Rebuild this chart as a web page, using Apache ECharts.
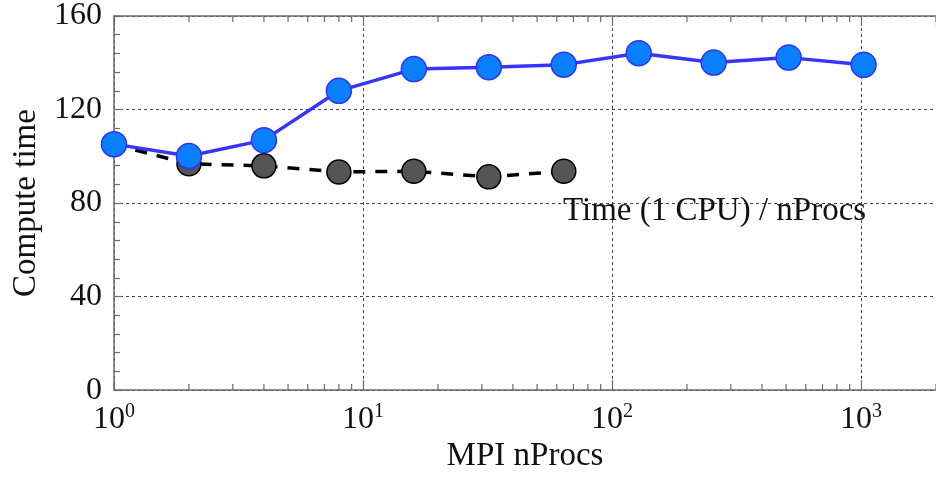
<!DOCTYPE html>
<html>
<head>
<meta charset="utf-8">
<script src="https://cdn.jsdelivr.net/npm/echarts@6/dist/echarts.min.js"></script>
<style>html,body{margin:0;padding:0;background:#fff;}#c{width:936px;height:478px;}</style>
</head>
<body>
<div id="c"></div>
<script>
const procs = [1, 2, 4, 8, 16, 32, 64, 128, 256, 512, 1024];
const computeTime = [105.2, 100.1, 106.9, 128.0, 137.3, 138.1, 139.2, 144.1, 140.1, 142.2, 139.1];
const procsIdeal = [1, 2, 4, 8, 16, 32, 64];
const idealTime = [105.0, 96.8, 95.9, 93.3, 93.6, 91.2, 93.6];
const yTicks = [0, 40, 80, 120, 160];
const xMajorTicks = [1, 10, 100, 1000];
const xMinorTicks = [2,3,4,5,6,7,8,9,20,30,40,50,60,70,80,90,200,300,400,500,600,700,800,900,2000];
const annotation = 'Time (1 CPU) / nProcs';

const FONT = 'Liberation Serif';
const axisColor = '#6a6a6a';
const chart = echarts.init(document.getElementById('c'));

const option = {
  animation: false,
  grid: { left: 114, top: 16, right: -12, bottom: 81, containLabel: false },
  xAxis: [{
    type: 'log', logBase: 10, min: 1, max: 2000,
    name: 'MPI nProcs', nameLocation: 'middle', nameGap: 47,
    nameTextStyle: { fontFamily: FONT, fontSize: 33, color: '#111' },
    axisLine: { show: true, onZero: false, lineStyle: { color: axisColor, width: 1.5 } },
    axisTick: { show: true, inside: true, length: 10, lineStyle: { color: axisColor, width: 1.2 } },
    minorTick: { show: false },
    axisLabel: {
      showMaxLabel: false, margin: 12, color: '#111',
      formatter: function (v) {
        const e = Math.round(Math.log10(v));
        return '{b|10}{e|' + e + '}';
      },
      rich: {
        b: { fontFamily: FONT, fontSize: 32, color: '#111' },
        e: { fontFamily: FONT, fontSize: 20, color: '#111', padding: [0, 0, 14, 0] }
      }
    },
    splitLine: { show: true, lineStyle: { color: '#444', width: 1, type: [3, 3] } }
  }, {
    type: 'log', logBase: 10, min: 1, max: 2000, position: 'top',
    axisLine: { show: true, onZero: false, lineStyle: { color: axisColor, width: 1.5 } },
    axisTick: { show: true, inside: true, length: 10, lineStyle: { color: axisColor, width: 1.2 } },
    axisLabel: { show: false },
    splitLine: { show: false }
  }],
  yAxis: {
    type: 'value', min: 0, max: 160, interval: 40,
    name: 'Compute time', nameLocation: 'middle', nameGap: 71,
    nameTextStyle: { fontFamily: FONT, fontSize: 33, color: '#111' },
    axisLine: { show: true, lineStyle: { color: axisColor, width: 1.5 } },
    axisTick: { show: true, inside: true, length: 8, lineStyle: { color: axisColor, width: 1.2 } },
    minorTick: { show: true, splitNumber: 5, length: 6, lineStyle: { color: axisColor, width: 1.2 } },
    axisLabel: {
      margin: 12, fontFamily: FONT, fontSize: 32, color: '#111',
      formatter: function (v) { return yTicks.indexOf(v) >= 0 ? String(v) : ''; }
    },
    splitLine: { show: true, lineStyle: { color: '#444', width: 1, type: [3, 3] } }
  },
  graphic: [{
    type: 'text', left: 563, top: 195, z: 100,
    style: { text: annotation, fontFamily: FONT, fontSize: 33, fill: '#111' }
  }],
  series: [{
    type: 'custom', silent: true, z: 1,
    data: xMinorTicks.map(v => [v]),
    renderItem: function (params, api) {
      const v = api.value(0);
      const b = api.coord([v, 0]);
      const t = api.coord([v, 160]);
      const ls = { stroke: axisColor, lineWidth: 1.2 };
      return { type: 'group', children: [
        { type: 'line', shape: { x1: b[0], y1: b[1], x2: b[0], y2: b[1] - 6 }, style: ls },
        { type: 'line', shape: { x1: t[0], y1: t[1], x2: t[0], y2: t[1] + 6 }, style: ls }
      ] };
    }
  }, {
    name: 'ideal', type: 'line', z: 2,
    data: procsIdeal.map((p, i) => [p, idealTime[i]]),
    symbol: 'circle', symbolSize: 24,
    lineStyle: { color: '#000', width: 3.5, type: [12, 10] },
    itemStyle: { color: '#555', borderColor: '#000', borderWidth: 1.5 }
  }, {
    name: 'measured', type: 'line', z: 3,
    data: procs.map((p, i) => [p, computeTime[i]]),
    symbol: 'circle', symbolSize: 25,
    lineStyle: { color: '#3535ff', width: 3.5 },
    itemStyle: { color: '#0a80ff', borderColor: '#3030ff', borderWidth: 1.5 }
  }]
};
chart.setOption(option);
</script>
</body>
</html>
